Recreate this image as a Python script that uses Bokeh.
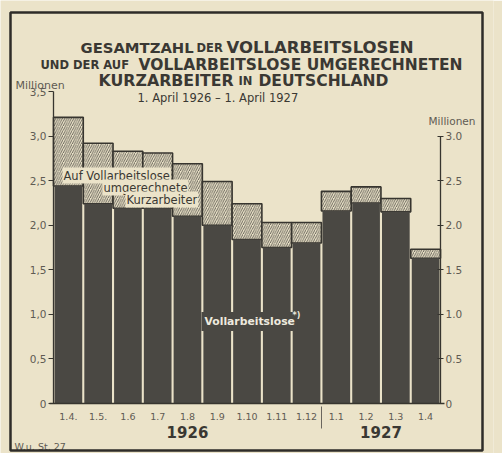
from bokeh.plotting import figure
from bokeh.models import (FactorRange, ColumnDataSource, LinearAxis, CategoricalAxis,
                          FixedTicker, Label, BoxAnnotation, Range1d)
from bokeh.embed import file_html
from bokeh.resources import INLINE

# ---- data (millions) ----
years = ["1926"] * 9 + ["1927"] * 4
months = ["1.4.", "1.5.", "1.6", "1.7", "1.8", "1.9", "1.10", "1.11", "1.12",
          "1.1", "1.2", "1.3", "1.4"]
vollarbeitslose = [2.44, 2.24, 2.19, 2.19, 2.10, 2.00, 1.84, 1.75, 1.80, 2.16, 2.25, 2.15, 1.63]
gesamt = [3.21, 2.92, 2.83, 2.81, 2.69, 2.49, 2.24, 2.03, 2.03, 2.38, 2.43, 2.30, 1.73]
left_ticks = [0, 0.5, 1.0, 1.5, 2.0, 2.5, 3.0, 3.5]
left_tick_labels = ["0", "0,5", "1,0", "1,5", "2,0", "2,5", "3,0", "3,5"]
right_ticks = [0, 0.5, 1.0, 1.5, 2.0, 2.5, 3.0]
right_tick_labels = ["0", "0.5", "1.0", "1.5", "2.0", "2.5", "3.0"]

BG = "#ebe3c9"
DARK = "#4a4843"
LINE = "#37352f"
GRAY = "#5f5b53"
TXT = "#3a3833"
FONT = "DejaVu Sans"

factors = list(zip(years, months))
n = len(factors)
src = ColumnDataSource(dict(x=factors, voll=vollarbeitslose, total=gesamt))

W, H = 502, 453
RIGHT_STRIP = 9
FRAME_W = W - RIGHT_STRIP
PX_PER_BAR = 387 / 13
PAD = (FRAME_W - 387) / 2 / PX_PER_BAR
Y0 = 403                      # canvas pixel row of the value 0
PX_PER_M = 312 / 3.5
xr = FactorRange(*factors, group_padding=0, factor_padding=0,
                 range_padding=PAD, range_padding_units="absolute")
yr_ = Range1d(-(H - Y0) / PX_PER_M, Y0 / PX_PER_M)

p = figure(width=W, height=H, output_backend="svg", toolbar_location=None,
           x_range=xr, y_range=yr_,
           x_axis_location=None, y_axis_location=None,
           min_border=0, min_border_right=RIGHT_STRIP)
p.background_fill_color = BG
p.border_fill_color = BG
p.outline_line_color = None
p.grid.visible = False

# hatched part (Kurzarbeiter)
p.vbar(x="x", bottom="voll", top="total", width=1.0, source=src,
       fill_color=BG, hatch_pattern="/", hatch_color="#5c5951", hatch_scale=4.5,
       hatch_weight=0.9, line_color=LINE, line_width=1.6)
# dark part (Vollarbeitslose)
p.vbar(x="x", top="voll", width=0.93, source=src, fill_color=DARK, line_color=None)

# ---- axes (fixed inside the plot) ----
yl = LinearAxis(ticker=FixedTicker(ticks=left_ticks), bounds=(0, 3.5), fixed_location=0,
                major_label_overrides=dict(zip(left_ticks, left_tick_labels)))
yrax = LinearAxis(ticker=FixedTicker(ticks=right_ticks), bounds=(0, 3.0), fixed_location=n,
                  major_label_overrides=dict(zip(right_ticks, right_tick_labels)))
for ax in (yl, yrax):
    ax.axis_line_color = LINE
    ax.axis_line_width = 1.3
    ax.major_tick_line_color = LINE
    ax.minor_tick_line_color = None
    ax.major_label_text_color = GRAY
    ax.major_label_text_font = FONT
    ax.major_label_text_font_size = "10.5px"
    ax.major_label_standoff = 2
yl.major_tick_out = 5
yl.major_tick_in = 0
yrax.major_tick_out = 3
yrax.major_tick_in = 3
p.add_layout(yl, "left")
p.add_layout(yrax, "right")

xa = CategoricalAxis(fixed_location=0, bounds=(-0.15, n + 0.15))
xa.axis_line_color = LINE
xa.axis_line_width = 1.6
xa.major_tick_line_color = None
xa.minor_tick_line_color = None
xa.major_label_text_color = GRAY
xa.major_label_text_font = FONT
xa.major_label_text_font_size = "9.5px"
xa.major_label_standoff = 3
xa.group_text_font = FONT
xa.group_text_font_size = "15px"
xa.group_text_font_style = "bold"
xa.group_text_color = TXT
xa.separator_line_color = "#6a665e"
xa.separator_line_width = 1
p.add_layout(xa, "below")

# ---- texts (reference pixel -> canvas screen units: sx = rx, sy = H - ry) ----
def lab(text, rx, ry, size, bold=True, color=TXT, align="left", **kw):
    p.add_layout(Label(x=rx, y=H - ry, x_units="screen", y_units="screen",
                       text=text, text_font=FONT, text_font_size=f"{size}px",
                       text_font_style="bold" if bold else "normal",
                       text_color=color, text_align=align,
                       text_baseline="alphabetic", **kw))

lab("GESAMTZAHL", 80, 47, 14.8)
lab("DER", 196, 47, 11.5)
lab("VOLLARBEITSLOSEN", 226, 47, 16.5)
lab("UND DER AUF", 40, 64, 11.5)
lab("VOLLARBEITSLOSE UMGERECHNETEN", 138, 64, 15.5)
lab("KURZARBEITER", 98, 80, 15.8)
lab("IN", 238, 80, 11.5)
lab("DEUTSCHLAND", 258, 80, 15.5)
lab("1. April 1926 \u2013 1. April 1927", 137, 97, 11.5, bold=False)

lab("Millionen", 15, 85, 11, bold=False, color=GRAY)
lab("Millionen", 428, 120, 10.5, bold=False, color=GRAY)
lab("W.u. St. 27", 14, 446, 9.5, bold=False, color=GRAY)

for t, rx, ry in [("Auf Vollarbeitslose", 62, 175), ("umgerechnete", 102, 187),
                  ("Kurzarbeiter", 125, 199)]:
    lab(t, rx, ry, 11.5, bold=False, color=TXT, background_fill_color=BG, padding=1)

lab("Vollarbeitslose", 201, 321, 10.8, color="#eeeadf",
    background_fill_color=DARK, padding=3)
lab("*)", 292, 315, 8, color="#eeeadf")

# outer frame
p.add_layout(BoxAnnotation(left=10, right=482, bottom=H - 450, top=H - 12,
                           left_units="screen", right_units="screen",
                           top_units="screen", bottom_units="screen",
                           fill_color=None, fill_alpha=0,
                           line_color="#2e2c28", line_alpha=1, line_width=2.5))

open("out.html", "w").write(file_html(p, INLINE))
